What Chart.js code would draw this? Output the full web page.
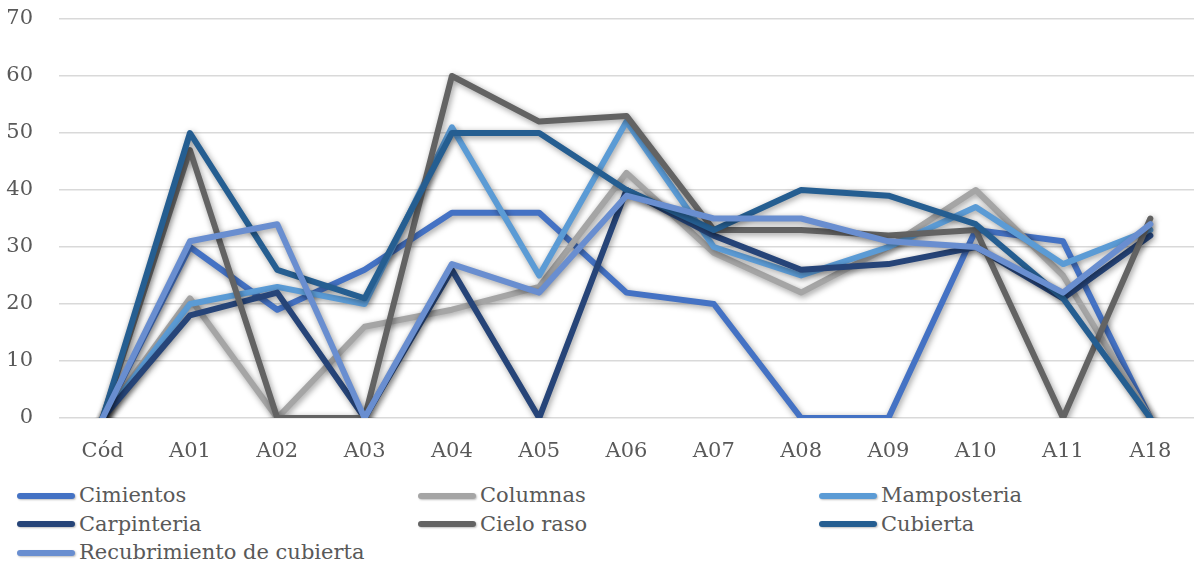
<!DOCTYPE html>
<html>
<head>
<meta charset="utf-8">
<script src="https://cdn.jsdelivr.net/npm/chart.js@4.4.0/dist/chart.umd.min.js"></script>
<style>
    html, body {margin: 0; padding: 0; background: #fff;}
    #wrap {position: relative; width: 1195px; height: 563px;}
    #box {position: absolute; left: 0; top: 0; width: 1195px; height: 470px;}
    #legend {position: absolute; left: 0; top: 481px; width: 1195px; height: 82px;
        font-family: "DejaVu Serif", serif; font-size: 21px; color: #595959;}
    .item {position: absolute; height: 28px; line-height: 28px; white-space: nowrap;}
    .item span.swatch {display: inline-block; width: 58px; height: 6px; border-radius: 3px;
        vertical-align: middle; margin-right: 4px; position: relative; top: -1px;
        box-shadow: 1px 1px 2px rgba(0,0,0,0.25);}
</style>
</head>
<body>
<div id="wrap">
    <div id="box"><canvas id="myChart"></canvas></div>
    <div id="legend"></div>
</div>
<script>
var xValues = ["Cód", "A01", "A02", "A03", "A04", "A05", "A06", "A07", "A08", "A09", "A10", "A11", "A18"];
var yTicks = [0, 10, 20, 30, 40, 50, 60, 70];

var cimientos      = [0, 30, 19, 26, 36, 36, 22, 20, 0, 0, 33, 31, 0];
var columnas       = [0, 21, 0, 16, 19, 23, 43, 29, 22, 30, 40, 25, 0];
var mamposteria    = [0, 20, 23, 20, 51, 25, 52, 30, 25, 30, 37, 27, 33];
var carpinteria    = [0, 18, 22, 0, 26, 0, 40, 32, 26, 27, 30, 21, 32];
var cieloRaso      = [0, 47, 0, 0, 60, 52, 53, 33, 33, 32, 33, 0, 35];
var cubierta       = [0, 50, 26, 21, 50, 50, 40, 33, 40, 39, 34, 21, 0];
var recubrimiento  = [0, 31, 34, 0, 27, 22, 39, 35, 35, 31, 30, 22, 34];

var names = ["Cimientos", "Columnas", "Mamposteria", "Carpinteria", "Cielo raso", "Cubierta", "Recubrimiento de cubierta"];
var series = [cimientos, columnas, mamposteria, carpinteria, cieloRaso, cubierta, recubrimiento];
var lineColors = ["#4472C4", "#A5A5A5", "#5B9BD5", "#264478", "#636363", "#255E91", "#698ED0"];

var textFont = {family: "'DejaVu Serif', serif", size: 21};

var datasets = series.map(function (d, i) {
    return {
        label: names[i],
        data: d,
        borderColor: lineColors[i],
        backgroundColor: lineColors[i],
        borderWidth: 6,
        borderJoinStyle: "round",
        borderCapStyle: "round",
        pointRadius: 0,
        tension: 0,
        fill: false,
        // later series sit on top
        order: series.length - i
    };
});

// soft drop shadow under each line
var lineShadow = {
    id: "lineShadow",
    beforeDatasetDraw: function (chart) {
        var ctx = chart.ctx;
        ctx.save();
        ctx.shadowColor = "rgba(0,0,0,0.4)";
        ctx.shadowBlur = 6;
        ctx.shadowOffsetX = 1.5;
        ctx.shadowOffsetY = 2;
    },
    afterDatasetDraw: function (chart) {
        chart.ctx.restore();
    }
};

Chart.defaults.color = "#595959";

var chart = new Chart("myChart", {
    type: "line",
    data: {
        labels: xValues,
        datasets: datasets
    },
    plugins: [lineShadow],
    options: {
        responsive: true,
        maintainAspectRatio: false,
        animation: false,
        layout: {padding: {top: 19, right: 1, left: 0, bottom: 0}},
        plugins: {
            legend: {display: false},
            tooltip: {enabled: false}
        },
        scales: {
            x: {
                offset: true,
                grid: {display: false, drawTicks: false},
                border: {display: false},
                ticks: {font: textFont, color: "#595959", padding: 21, maxRotation: 0},
                afterFit: function (s) { s.height = 52; }
            },
            y: {
                min: 0,
                max: 70,
                afterBuildTicks: function (s) {
                    s.ticks = yTicks.map(function (v) { return {value: v}; });
                },
                grid: {color: "#D9D9D9", lineWidth: 1.5, drawTicks: false},
                border: {display: false},
                ticks: {font: textFont, color: "#595959", padding: 26},
                afterFit: function (s) {
                    s.width = 59;
                    s.paddingTop = 0;
                    s.paddingBottom = 0;
                }
            }
        }
    }
});

// legend laid out in three columns like the worksheet chart
var legendBox = document.getElementById("legend");
var colX = [17, 418, 819];
chart.data.datasets.forEach(function (ds, i) {
    var item = document.createElement("div");
    item.className = "item";
    item.style.left = colX[i % 3] + "px";
    item.style.top = (Math.floor(i / 3) * 28.5) + "px";
    item.innerHTML = '<span class="swatch" style="background:' + ds.borderColor + '"></span>' + ds.label;
    legendBox.appendChild(item);
});
</script>
</body>
</html>
